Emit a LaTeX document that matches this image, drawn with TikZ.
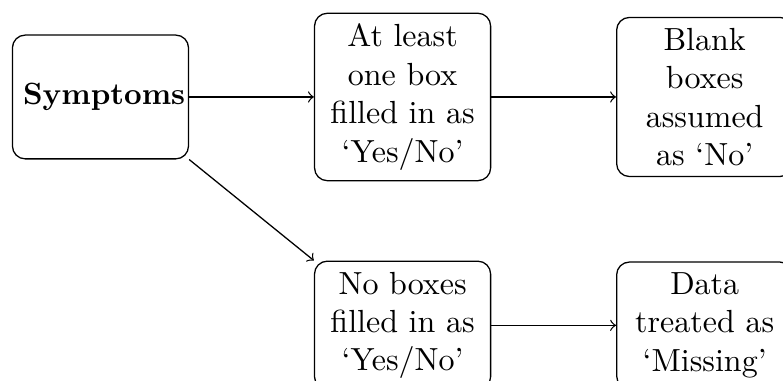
\documentclass[tikz,border=0pt]{standalone}
\usepackage{tikz}
\usetikzlibrary{positioning}

\begin{document}
\begin{tikzpicture}[
    box/.style={draw, rounded corners, text width=1.7cm, align=center}
]
    % Cut the page as in the scan
    \useasboundingbox (-31.4pt,-88.75pt) rectangle (213.3pt,30.3pt);

    % Symptoms node
    \node[box, minimum height=1.36cm, font=\fontsize{9.6}{12}\selectfont] (sym) {\textbf{Symptoms}};

    % At least one box answered
    \node[box, right=1.37cm of sym] (atleast) {At least one box filled in as `Yes/No'};
    \node[box, right=1.37cm of atleast] (blank) {Blank boxes assumed as `No'};

    % No box answered
    \node[box, below=0.87cm of atleast] (nobox) {No boxes filled in as `Yes/No'};
    \node[box, right=1.37cm of nobox] (missing) {Data treated as `Missing'};

    % Arrows
    \draw[->] (sym) -- (atleast);
    \draw[->] (atleast) -- (blank);
    \draw[->] (sym.south east) -- (nobox.north west);
    \draw[->] (nobox) -- (missing);
\end{tikzpicture}
\end{document}
